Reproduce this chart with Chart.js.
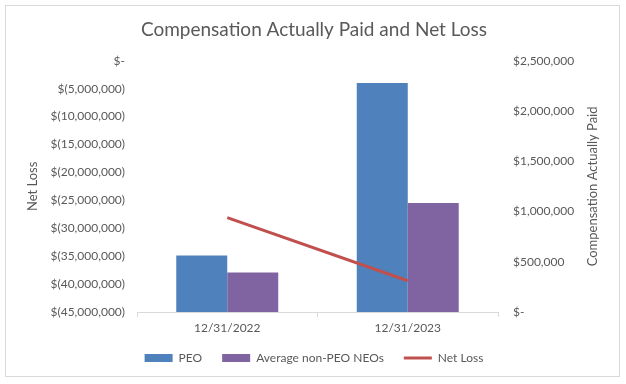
<!DOCTYPE html>
<html>
<head>
<meta charset="utf-8">
<script src="https://cdn.jsdelivr.net/npm/chart.js@4/dist/chart.umd.min.js"></script>
<style>
    html, body { margin: 0; padding: 0; background: #fff; }
    #wrap { position: relative; width: 626px; height: 384px; }
    #frame {
        position: absolute; left: 5px; top: 5px; width: 613px; height: 370px;
        border: 1px solid #d9d9d9; pointer-events: none;
    }
</style>
</head>
<body>
<div id="wrap">
    <canvas id="chart" width="626" height="384"></canvas>
    <div id="frame"></div>
</div>
<script>
const categories = ['12/31/2022', '12/31/2023'];
const peoPaid = [562000, 2280000];
const neoPaid = [392000, 1084000];
const netLoss = [-28100000, -39400000];

const textColor = '#595959';
const fontFamily = 'Lato, "Open Sans", sans-serif';
const rightTitle = 'Compensation Actually Paid';

function lossLabel(value) {
    if (value === 0) {
        return '$-';
    }
    return '$(' + Math.abs(value).toLocaleString('en-US') + ')';
}

function paidLabel(value) {
    if (value === 0) {
        return '$-';
    }
    return '$' + value.toLocaleString('en-US');
}

// right axis title reads bottom-to-top, like the left one
const rightTitlePlugin = {
    id: 'rightTitle',
    afterDraw(chart) {
        const { ctx, chartArea } = chart;
        ctx.save();
        ctx.translate(593, (chartArea.top + chartArea.bottom) / 2);
        ctx.rotate(-Math.PI / 2);
        ctx.fillStyle = textColor;
        ctx.font = '13px ' + fontFamily;
        ctx.textAlign = 'center';
        ctx.textBaseline = 'middle';
        ctx.fillText(rightTitle, 0, 0);
        ctx.restore();
    },
};

const context = document.getElementById('chart').getContext('2d');

new Chart(context, {
    type: 'bar',
    data: {
        labels: categories,
        datasets: [
            {
                label: 'PEO',
                data: peoPaid,
                backgroundColor: '#4F81BD',
                yAxisID: 'yR',
                order: 1,
            },
            {
                label: 'Average non-PEO NEOs',
                data: neoPaid,
                backgroundColor: '#8064A2',
                yAxisID: 'yR',
                order: 1,
            },
            {
                type: 'line',
                label: 'Net Loss',
                data: netLoss,
                borderColor: '#C0504D',
                backgroundColor: '#C0504D',
                borderWidth: 3,
                pointRadius: 0,
                yAxisID: 'yL',
                order: 0,
            },
        ],
    },
    plugins: [rightTitlePlugin],
    options: {
        responsive: false,
        animation: false,
        datasets: {
            bar: {
                categoryPercentage: 0.565,
                barPercentage: 1,
            },
        },
        layout: {
            padding: { left: 21, right: 19, top: 0, bottom: 10 },
        },
        plugins: {
            title: {
                display: true,
                text: 'Compensation Actually Paid and Net Loss',
                color: textColor,
                font: { family: fontFamily, size: 19, weight: 'normal' },
                padding: { top: 18, bottom: 20 },
            },
            legend: {
                position: 'bottom',
                labels: {
                    color: textColor,
                    font: { family: fontFamily, size: 12 },
                    usePointStyle: true,
                    pointStyleWidth: 28,
                    boxHeight: 8,
                    padding: 20,
                    generateLabels(chart) {
                        return chart.data.datasets.map((dataset, index) => {
                            const isLine = dataset.type === 'line';
                            return {
                                text: dataset.label,
                                datasetIndex: index,
                                fillStyle: dataset.backgroundColor,
                                strokeStyle: isLine ? dataset.borderColor : dataset.backgroundColor,
                                lineWidth: isLine ? 3 : 0,
                                pointStyle: isLine ? 'line' : 'rect',
                                fontColor: textColor,
                                hidden: false,
                            };
                        });
                    },
                },
            },
            tooltip: { enabled: false },
        },
        scales: {
            x: {
                grid: {
                    drawOnChartArea: false,
                    drawTicks: true,
                    tickLength: 5,
                    color: '#d9d9d9',
                },
                border: { color: '#d9d9d9' },
                ticks: {
                    color: textColor,
                    padding: 4,
                    font: { family: fontFamily, size: 12 },
                },
                afterFit(scale) {
                    scale.height = 20;
                },
            },
            yL: {
                position: 'left',
                min: -45000000,
                max: 0,
                grid: { display: false, drawTicks: false },
                border: { display: false },
                ticks: {
                    stepSize: 5000000,
                    color: textColor,
                    padding: 12,
                    font: { family: fontFamily, size: 12 },
                    callback: (value) => lossLabel(value),
                },
                title: {
                    display: true,
                    text: 'Net Loss',
                    color: textColor,
                    padding: 4,
                    font: { family: fontFamily, size: 13 },
                },
                afterFit(scale) {
                    scale.width = 116;
                },
            },
            yR: {
                position: 'right',
                min: 0,
                max: 2500000,
                grid: { display: false, drawTicks: false },
                border: { display: false },
                ticks: {
                    stepSize: 500000,
                    color: textColor,
                    padding: 15,
                    font: { family: fontFamily, size: 12 },
                    callback: (value) => paidLabel(value),
                },
                afterFit(scale) {
                    scale.width = 109;
                },
            },
        },
    },
});
</script>
</body>
</html>
